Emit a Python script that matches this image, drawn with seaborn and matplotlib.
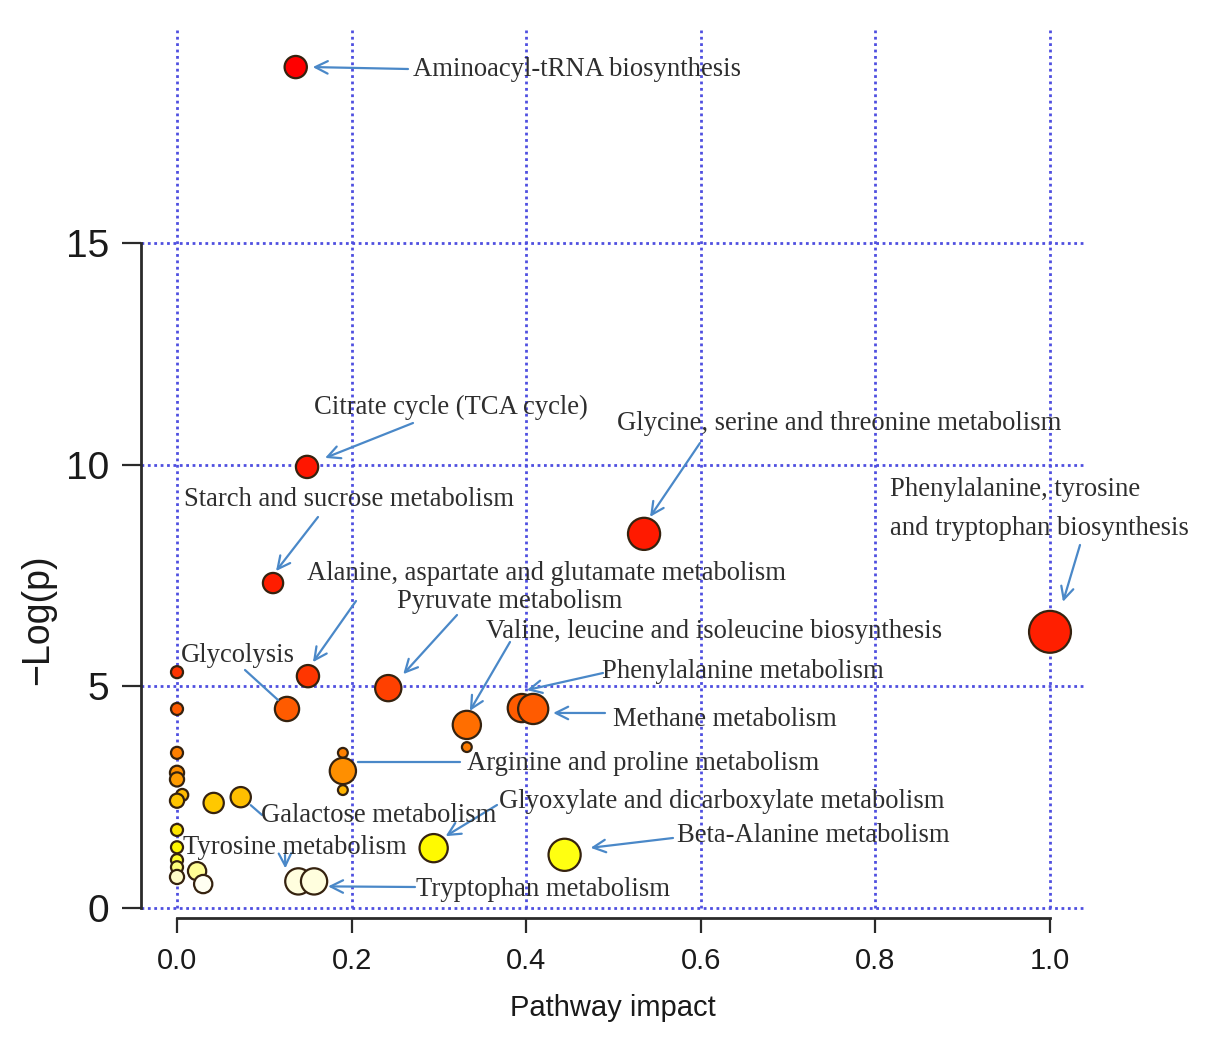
import matplotlib
matplotlib.use("Agg")
import matplotlib.pyplot as plt
import seaborn as sns
import pandas as pd
from matplotlib.colors import LinearSegmentedColormap

# -------------------------------------------------
# data
# -------------------------------------------------
pathway = [
    # unlabeled small nodes first (drawn behind)
    "n1", "n2", "n3", "n4", "n5", "n6", "n7", "n8", "n9", "n10",
    "n11", "n12", "n13", "n14", "n15", "n16", "n17", "n18",
    # labeled pathways
    "Aminoacyl-tRNA biosynthesis",
    "Citrate cycle (TCA cycle)",
    "Glycine, serine and threonine metabolism",
    "Starch and sucrose metabolism",
    "Phenylalanine, tyrosine and tryptophan biosynthesis",
    "Alanine, aspartate and glutamate metabolism",
    "Pyruvate metabolism",
    "Glycolysis",
    "Valine, leucine and isoleucine biosynthesis",
    "Phenylalanine metabolism",
    "Methane metabolism",
    "Arginine and proline metabolism",
    "Galactose metabolism",
    "Glyoxylate and dicarboxylate metabolism",
    "Beta-Alanine metabolism",
    "Tyrosine metabolism",
    "Tryptophan metabolism",
]
impact = [
    0.190, 0.190, 0.332, 0.0, 0.0, 0.0, 0.0, 0.0, 0.006, 0.0,
    0.0, 0.0, 0.0, 0.0, 0.0, 0.023, 0.030, 0.042,
    0.136, 0.149, 0.535, 0.110, 1.000, 0.150, 0.242, 0.126, 0.332,
    0.395, 0.408, 0.190, 0.073, 0.294, 0.444, 0.139, 0.157,
]
neg_log_p = [
    3.50, 2.66, 3.63, 5.32, 4.49, 3.50, 3.05, 2.90, 2.55, 2.42,
    1.76, 1.37, 1.08, 0.92, 0.70, 0.83, 0.54, 2.37,
    18.97, 9.95, 8.44, 7.33, 6.23, 5.23, 4.96, 4.49, 4.13,
    4.51, 4.49, 3.09, 2.50, 1.35, 1.20, 0.60, 0.60,
]
node_radius = [
    6, 6, 6, 7, 7, 7, 8, 8, 7, 8,
    7, 7, 7, 7, 8, 10, 10, 11,
    12, 12, 17, 11, 22, 12, 14, 13, 15,
    15, 16, 14, 11, 15, 17, 14, 14,
]

df = pd.DataFrame({"pathway": pathway, "impact": impact,
                   "neg_log_p": neg_log_p, "node_radius": node_radius})
df["area"] = df["node_radius"] ** 2

# label layout (image pixels): text left/center, arrow tail, head offset from node, style
label_layout = {
    "Aminoacyl-tRNA biosynthesis": ((413, 69), (408, 69), (17, 0), "->"),
    "Citrate cycle (TCA cycle)": ((314, 407), (413, 423), (18, -9), "->"),
    "Glycine, serine and threonine metabolism": ((617, 424), (700, 443), (6, -17), "->"),
    "Starch and sucrose metabolism": ((184, 499), (318, 517), (3, -12), "->"),
    "Phenylalanine, tyrosine and tryptophan biosynthesis": ((890, 509), (1080, 545), (13, -30), "->"),
    "Alanine, aspartate and glutamate metabolism": ((307, 573), (356, 601), (5, -14), "->"),
    "Pyruvate metabolism": ((397, 602), (457, 615), (15, -14), "->"),
    "Valine, leucine and isoleucine biosynthesis": ((486, 632), (510, 642), (3, -14), "->"),
    "Glycolysis": ((181, 655), (245, 670), (-9, -9), "-"),
    "Phenylalanine metabolism": ((602, 671), (603, 673), (5, -18), "->"),
    "Methane metabolism": ((613, 719), (605, 713), (20, 4), "->"),
    "Arginine and proline metabolism": ((467, 764), (460, 762), (15, -9), "-"),
    "Galactose metabolism": ((261, 816), (262, 815), (10, 8), "-"),
    "Glyoxylate and dicarboxylate metabolism": ((499, 802), (497, 805), (12, -12), "->"),
    "Beta-Alanine metabolism": ((677, 836), (673, 838), (26, -7), "->"),
    "Tyrosine metabolism": ((183, 847), (285, 855), (-13, -13), "->"),
    "Tryptophan metabolism": ((416, 889), (415, 887), (14, 5), "->"),
}
display_text = {
    "Phenylalanine, tyrosine and tryptophan biosynthesis":
        "Phenylalanine, tyrosine\nand tryptophan biosynthesis",
}

# heat-like colour scale: white -> yellow -> orange -> red
stops = [(0.5, "#FFFFF2"), (0.65, "#FFFCC8"), (1.2, "#FFFF00"), (2.4, "#FFC400"),
         (3.1, "#FF8A00"), (4.1, "#FF7000"), (4.5, "#FF5A00"), (5.0, "#FF3C00"),
         (6.0, "#FF2000"), (19.0, "#FF0000")]
lo, hi = stops[0][0], stops[-1][0]
heat = LinearSegmentedColormap.from_list(
    "heat", [((v - lo) / (hi - lo), c) for v, c in stops])

# -------------------------------------------------
# figure
# -------------------------------------------------
sns.set_style("white")
plt.rcParams["font.family"] = ["Liberation Sans", "DejaVu Sans"]

W, H = 1205, 1039
fig = plt.figure(figsize=(W / 100, H / 100), dpi=100)
ax = fig.add_axes([141 / W, 131 / H, 944 / W, 878 / H])
ax.set_xlim(-0.04124, 1.0401)
ax.set_ylim(0, 19.806)

ax.grid(True, color="#4f4fe0", linestyle=(0, (1, 1.3)), linewidth=2.0)
ax.set_axisbelow(True)

sns.scatterplot(data=df, x="impact", y="neg_log_p", hue="neg_log_p",
                palette=heat, hue_norm=(lo, hi), size="area",
                sizes=(50, 910), size_norm=(36, 484),
                edgecolor="#35220f", linewidth=1.6, legend=False,
                ax=ax, zorder=3, clip_on=False)

ax.set_xticks([0, 0.2, 0.4, 0.6, 0.8, 1.0])
ax.set_xticklabels(["0.0", "0.2", "0.4", "0.6", "0.8", "1.0"])
ax.set_yticks([0, 5, 10, 15])
ax.set_yticklabels(["0", "5", "10", "15"])

for side in ["top", "right"]:
    ax.spines[side].set_visible(False)
ax.spines["left"].set_bounds(0, 15)
ax.spines["bottom"].set_bounds(0, 1)
ax.spines["bottom"].set_position(("outward", 7))
for side in ["left", "bottom"]:
    ax.spines[side].set_color("#2a2a2a")
    ax.spines[side].set_linewidth(2.0)

ax.tick_params(axis="y", length=14, width=1.6, pad=9, labelsize=28,
               color="#2a2a2a", labelcolor="#1a1a1a", left=True)
ax.tick_params(axis="x", length=11, width=1.6, pad=10, labelsize=21,
               color="#2a2a2a", labelcolor="#1a1a1a", bottom=True)

ax.set_xlabel("Pathway impact", fontsize=21, color="#1a1a1a", labelpad=14)
ax.set_ylabel("\u2212Log(p)", fontsize=27, color="#1a1a1a")
ax.yaxis.set_label_coords(-0.09, 0.328)

# annotations
fig.canvas.draw()
for gl in ax.get_ygridlines() + ax.get_xgridlines():
    gl.set_clip_on(False)
for name, (txt_pos, tail, head_off, style) in label_layout.items():
    row = df[df["pathway"] == name].iloc[0]
    px, py = ax.transData.transform((row["impact"], row["neg_log_p"]))
    head = (px + head_off[0], py - head_off[1])
    ax.annotate("", xy=head, xycoords="figure pixels",
                xytext=(tail[0], H - tail[1]), textcoords="figure pixels",
                arrowprops=dict(arrowstyle=style + (",head_length=0.9,head_width=0.45" if style == "->" else ""),
                                color="#4a88c8", lw=1.6, shrinkA=0, shrinkB=0),
                zorder=4)
    fig.text(txt_pos[0] / W, (H - txt_pos[1]) / H, display_text.get(name, name),
             ha="left", va="center", fontsize=19.2, family="Liberation Serif",
             color="#2e2e2e", linespacing=1.75)

plt.savefig("out.png", dpi=100)
